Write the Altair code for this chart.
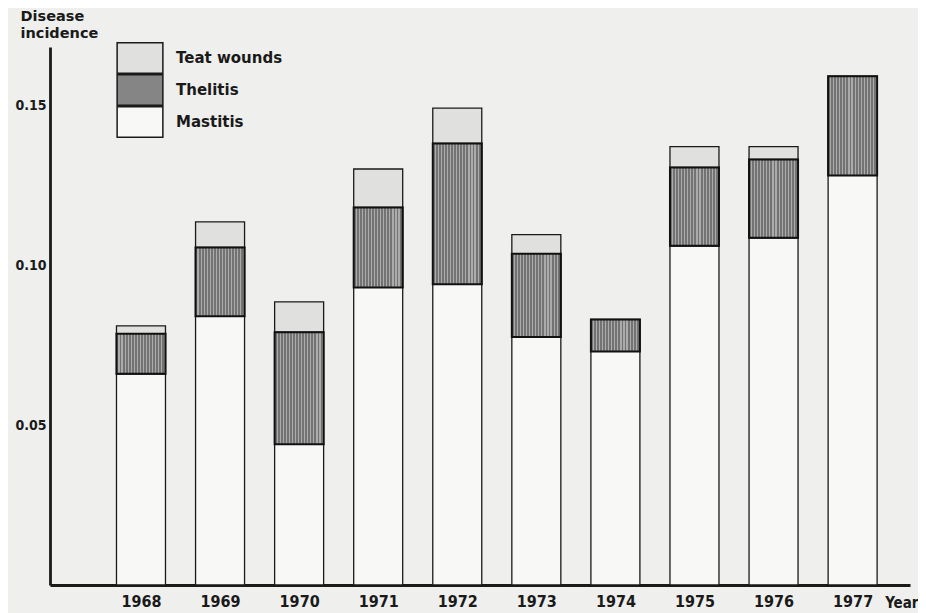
import altair as alt
import pandas as pd

# ---- data ----
years = [1968, 1969, 1970, 1971, 1972, 1973, 1974, 1975, 1976, 1977]
mastitis = [0.066, 0.084, 0.044, 0.093, 0.094, 0.0775, 0.073, 0.106, 0.1085, 0.128]
thelitis = [0.0125, 0.0215, 0.035, 0.025, 0.044, 0.026, 0.010, 0.0245, 0.0245, 0.031]
teat_wounds = [0.0025, 0.008, 0.0095, 0.012, 0.011, 0.006, 0.0, 0.0065, 0.004, 0.0]
series_names = ["Teat wounds", "Thelitis", "Mastitis"]
y_ticks = [0.05, 0.10, 0.15]

rows = []
for i, yr in enumerate(years):
    m1 = mastitis[i]
    t1 = m1 + thelitis[i]
    w1 = t1 + teat_wounds[i]
    rows.append(dict(year=yr, series="Mastitis", start=0.0, end=m1))
    rows.append(dict(year=yr, series="Thelitis", start=m1, end=t1))
    if teat_wounds[i] > 0:
        rows.append(dict(year=yr, series="Teat wounds", start=t1, end=w1))
df = pd.DataFrame(rows)

INK = "#1a1a1a"
BG = "#efefed"
COND = "DejaVu Sans Condensed"

# vertical hatching for Thelitis
n_str = 16
stops = []
for k in range(n_str):
    a = k / n_str
    b = (k + 0.62) / n_str
    c = (k + 1) / n_str
    stops += [
        {"offset": a, "color": "#737373"},
        {"offset": b, "color": "#737373"},
        {"offset": b, "color": "#ababab"},
        {"offset": c, "color": "#ababab"},
    ]
hatch = {"gradient": "linear", "x1": 0, "x2": 1, "y1": 0, "y2": 0, "stops": stops}

base = alt.Chart(df).encode(
    x=alt.X(
        "year:Q",
        scale=alt.Scale(domain=[1966.9125, 1977.6625], nice=False, zero=False),
        axis=alt.Axis(
            values=years, format="d", grid=False, ticks=False, labelFlush=False,
            labelPadding=8, labelFont=COND, labelFontSize=16, labelFontWeight="bold",
            labelColor=INK,
            title="Year", titleAngle=0, titleX=868, titleY=17, titleAlign="right",
            titleBaseline="middle", titleFont=COND, titleFontSize=15,
            titleFontWeight="bold", titleColor=INK,
            domainColor=INK, domainWidth=2.8,
        ),
    ),
    y=alt.Y(
        "start:Q",
        scale=alt.Scale(domain=[0, 0.168125], nice=False),
        axis=alt.Axis(
            values=y_ticks, format=".2f", grid=False, ticks=False, labelPadding=4,
            labelFont=COND, labelFontSize=14, labelFontWeight="bold", labelColor=INK,
            title=["Disease", "incidence"], titleAngle=0, titleAlign="left",
            titleBaseline="top", titleX=-30, titleY=-38, titleLineHeight=17,
            titleFont="DejaVu Sans", titleFontSize=14.5, titleFontWeight="bold",
            titleColor=INK, domainColor=INK, domainWidth=2.8,
        ),
    ),
    y2="end:Q",
)

bars = base.mark_bar(size=49, stroke=INK, strokeWidth=1.3).encode(
    color=alt.Color(
        "series:N",
        scale=alt.Scale(domain=series_names, range=["#e0e0de", "#858585", "#f8f8f6"]),
        legend=alt.Legend(
            title=None, orient="none", legendX=66, legendY=-5, padding=0,
            symbolType="M-1.5,-1H1.5V1H-1.5Z", symbolSize=930, symbolOffset=8,
            symbolStrokeColor=INK, symbolStrokeWidth=1.5, symbolOpacity=1,
            clipHeight=32, rowPadding=0, labelOffset=20, labelFont="DejaVu Sans",
            labelFontSize=15, labelFontWeight="bold", labelColor=INK,
        ),
    )
)

thel = base.transform_filter(alt.datum.series == "Thelitis").mark_bar(
    size=49, fill=hatch, stroke="#111111", strokeWidth=2
)

chart = (
    alt.layer(bars, thel)
    .properties(
        width=860, height=538,
        autosize=alt.AutoSizeParams(type="none"),
        padding={"left": 42, "top": 39, "right": 8, "bottom": 28},
        background=BG,
    )
    .configure_view(strokeWidth=0)
)

chart.save("out.html", embed_options={"renderer": "svg", "actions": False})
